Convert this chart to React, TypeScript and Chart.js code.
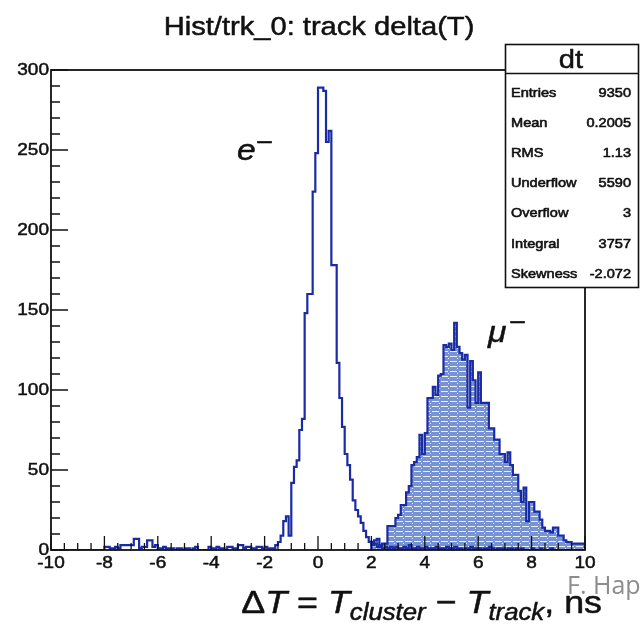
import React, { useEffect, useRef } from "react";
import { Chart, registerables } from "chart.js";

Chart.register(...registerables);

// Axis ranges and binning
const X_MIN = -10;
const X_MAX = 10;
const Y_MIN = 0;
const Y_MAX = 300;
const BIN_WIDTH = 0.1;

// Electron histogram: 200 bins of 0.1 ns covering [-10, 10)
const electronCounts = [
  0, 0, 0, 0, 0, 0, 0, 0, 0, 0,
  0, 0, 0, 0, 0, 0, 0, 0, 0, 0,
  0, 2, 2, 1, 1, 2, 1, 3, 3, 3,
  3, 3, 7, 7, 1, 2, 2, 6, 6, 2,
  3, 1, 1, 2, 1, 1, 1, 0, 1, 1,
  0, 1, 1, 0, 1, 2, 0, 0, 0, 0,
  2, 1, 1, 2, 1, 1, 0, 2, 2, 1,
  1, 3, 3, 1, 2, 2, 1, 1, 2, 2,
  1, 2, 1, 1, 1, 3, 5, 9, 18, 21,
  9, 42, 52, 56, 75, 82, 148, 160, 160, 224,
  248, 289, 289, 287, 255, 262, 178, 178, 117, 95,
  77, 60, 53, 44, 31, 25, 21, 17, 12, 8,
  5, 3, 4, 2, 3, 1, 2, 1, 2, 1,
  2, 1, 1, 2, 1, 3, 1, 1, 2, 1,
  1, 2, 1, 1, 1, 2, 1, 1, 1, 2,
  1, 1, 2, 1, 1, 0, 1, 1, 2, 1,
  1, 1, 0, 1, 1, 2, 1, 0, 1, 1,
  1, 0, 1, 1, 0, 1, 0, 1, 0, 0,
  0, 1, 0, 0, 1, 0, 0, 0, 1, 0,
  0, 0, 0, 0, 0, 0, 0, 0, 0, 0,
];

// Muon histogram: 80 bins of 0.1 ns starting at 2.0 ns
const MUON_START = 2.0;
const muonCounts = [
  6, 5, 6, 7, 2, 4, 4, 15, 15, 15,
  20, 22, 28, 28, 36, 40, 53, 55, 58, 72,
  60, 73, 95, 95, 102, 97, 109, 110, 128, 127,
  129, 125, 142, 127, 123, 119, 122, 89, 118, 106,
  92, 111, 92, 92, 92, 76, 76, 69, 69, 60,
  60, 55, 61, 53, 47, 47, 37, 30, 39, 18,
  30, 30, 24, 24, 19, 14, 12, 12, 11, 14,
  14, 9, 9, 6, 5, 5, 4, 4, 4, 4,
];

const xMajorTicks = [-10, -8, -6, -4, -2, 0, 2, 4, 6, 8, 10];
const X_MINOR_STEP = 0.5;
const yMajorTicks = [0, 50, 100, 150, 200, 250, 300];
const Y_MINOR_STEP = 10;

const TITLE = "Hist/trk_0: track delta(T)";
const STAT_TITLE = "dt";
const statLabels = ["Entries", "Mean", "RMS", "Underflow", "Overflow", "Integral", "Skewness"];
const statValues = ["9350", "0.2005", "1.13", "5590", "3", "3757", "-2.072"];
const CREDIT = "F. Hap";

const LINE_BLUE = "#1a2ca4";
const FILL_BLUE = "#7893d4";
const SANS = "'Liberation Sans', Arial, Helvetica, sans-serif";
const SX = 1.12; // horizontal text stretch

type Pt = { x: number; y: number };

function histPoints(start: number, counts: number[], closeEnds: boolean): Pt[] {
  const pts: Pt[] = [];
  if (closeEnds) pts.push({ x: start, y: 0 });
  counts.forEach((c, i) => pts.push({ x: start + i * BIN_WIDTH, y: c }));
  const end = start + counts.length * BIN_WIDTH;
  pts.push({ x: end, y: counts[counts.length - 1] });
  if (closeEnds) pts.push({ x: end, y: 0 });
  return pts;
}

function makeHatch(): CanvasPattern | string {
  const c = document.createElement("canvas");
  c.width = 9;
  c.height = 5;
  const g = c.getContext("2d");
  if (!g) return FILL_BLUE;
  g.fillStyle = FILL_BLUE;
  g.fillRect(0, 0, 9, 5);
  g.fillStyle = "rgba(255,255,255,0.85)";
  g.fillRect(0, 1, 7, 1);
  g.fillRect(7, 3, 1, 1);
  return g.createPattern(c, "repeat") || FILL_BLUE;
}

function drawText(
  ctx: CanvasRenderingContext2D,
  s: string,
  x: number,
  y: number,
  font: string,
  align: "left" | "right" | "center" = "left",
  color = "#111",
  sx = SX,
  bold = 0.5
): number {
  ctx.save();
  ctx.font = font;
  ctx.fillStyle = color;
  ctx.strokeStyle = color;
  ctx.lineWidth = bold;
  ctx.lineJoin = "round";
  ctx.textAlign = "left";
  ctx.textBaseline = "alphabetic";
  const w = ctx.measureText(s).width * sx;
  const x0 = align === "left" ? x : align === "right" ? x - w : x - w / 2;
  ctx.translate(x0, y);
  ctx.scale(sx, 1);
  ctx.fillText(s, 0, 0);
  if (bold > 0) ctx.strokeText(s, 0, 0);
  ctx.restore();
  return w;
}

type Piece = { t: string; font: string; dy?: number };

function drawRich(ctx: CanvasRenderingContext2D, pieces: Piece[], right: number, baseline: number) {
  let total = 0;
  ctx.save();
  for (const p of pieces) {
    ctx.font = p.font;
    total += ctx.measureText(p.t).width * SX;
  }
  ctx.restore();
  let x = right - total;
  for (const p of pieces) {
    x += drawText(ctx, p.t, x, baseline + (p.dy || 0), p.font, "left");
  }
}

const decorPlugin = {
  id: "rootDecor",
  beforeDraw(chart: any) {
    const ctx = chart.ctx as CanvasRenderingContext2D;
    ctx.save();
    ctx.fillStyle = "#fff";
    ctx.fillRect(0, 0, chart.width, chart.height);
    ctx.restore();
  },
  afterDraw(chart: any) {
    const ctx = chart.ctx as CanvasRenderingContext2D;
    const xs = chart.scales.x;
    const ys = chart.scales.y;
    const { left, right, top, bottom } = chart.chartArea;

    ctx.save();
    // frame
    ctx.strokeStyle = "#111";
    ctx.lineWidth = 1.8;
    ctx.strokeRect(left, top, right - left, bottom - top);

    // x ticks (inward)
    ctx.lineWidth = 1.3;
    ctx.beginPath();
    const nx = Math.round((X_MAX - X_MIN) / X_MINOR_STEP);
    for (let i = 0; i <= nx; i++) {
      const px = xs.getPixelForValue(X_MIN + i * X_MINOR_STEP);
      ctx.moveTo(px, bottom);
      ctx.lineTo(px, bottom - 7);
    }
    for (const v of xMajorTicks) {
      const px = xs.getPixelForValue(v);
      ctx.moveTo(px, bottom);
      ctx.lineTo(px, bottom - 14);
    }
    // y ticks (inward)
    const ny = Math.round((Y_MAX - Y_MIN) / Y_MINOR_STEP);
    for (let i = 0; i <= ny; i++) {
      const py = ys.getPixelForValue(Y_MIN + i * Y_MINOR_STEP);
      ctx.moveTo(left, py);
      ctx.lineTo(left + 9, py);
    }
    for (const v of yMajorTicks) {
      const py = ys.getPixelForValue(v);
      ctx.moveTo(left, py);
      ctx.lineTo(left + 17, py);
    }
    ctx.stroke();

    const tickFont = `17px ${SANS}`;
    for (const v of xMajorTicks) {
      drawText(ctx, String(v), xs.getPixelForValue(v), bottom + 18, tickFont, "center");
    }
    for (const v of yMajorTicks) {
      drawText(ctx, String(v), left - 2, ys.getPixelForValue(v) + 5, tickFont, "right");
    }

    // title
    drawText(ctx, TITLE, 319, 35, `26px ${SANS}`, "center");

    // particle labels
    const it30 = `italic 30px ${SANS}`;
    drawText(ctx, "e", 237, 160, it30, "left");
    drawText(ctx, "\u2212", 256, 151, `26px ${SANS}`, "left");
    drawText(ctx, "\u03bc", 488, 342, it30, "left");
    drawText(ctx, "\u2212", 509, 331, `26px ${SANS}`, "left");

    // axis title
    const up = `32px ${SANS}`;
    const it = `italic 32px ${SANS}`;
    const sub = `italic 23px ${SANS}`;
    drawRich(
      ctx,
      [
        { t: "\u0394", font: up },
        { t: "T", font: it },
        { t: " = ", font: up },
        { t: "T", font: it },
        { t: "cluster", font: sub, dy: 7 },
        { t: " \u2212 ", font: up },
        { t: "T", font: it },
        { t: "track", font: sub, dy: 7 },
        { t: ", ns", font: up },
      ],
      602,
      613
    );

    // credit text
    drawText(ctx, CREDIT, 567, 594, `25px 'Open Sans', sans-serif`, "left", "#8c8c8c", 1, 0);

    // statistics box
    const bx = 505.5;
    const by = 44.5;
    const bw = 133;
    const bh = 243;
    ctx.fillStyle = "#fff";
    ctx.fillRect(bx, by, bw, bh);
    ctx.strokeStyle = "#111";
    ctx.lineWidth = 1.6;
    ctx.strokeRect(bx, by, bw, bh);
    ctx.beginPath();
    ctx.moveTo(bx, 73.5);
    ctx.lineTo(bx + bw, 73.5);
    ctx.stroke();
    drawText(ctx, STAT_TITLE, 571, 68, `26px ${SANS}`, "center");
    statLabels.forEach((lab, i) => {
      const yb = 96.5 + i * 30.2;
      drawText(ctx, lab, 511, yb, `13px ${SANS}`, "left", "#111", SX, 0.6);
      drawText(ctx, statValues[i], 631, yb, `13px ${SANS}`, "right", "#111", SX, 0.6);
    });
    ctx.restore();
  },
};

export default function App() {
  const canvasRef = useRef<HTMLCanvasElement | null>(null);

  useEffect(() => {
    const canvas = canvasRef.current;
    if (!canvas) return;
    const hatch = makeHatch();
    const chart = new Chart(canvas, {
      type: "line",
      data: {
        datasets: [
          {
            label: "mu",
            data: histPoints(MUON_START, muonCounts, true),
            stepped: "after",
            borderColor: LINE_BLUE,
            borderWidth: 2.2,
            backgroundColor: hatch as any,
            fill: "origin",
            pointRadius: 0,
            order: 2,
          },
          {
            label: "e",
            data: histPoints(X_MIN, electronCounts, false),
            stepped: "after",
            borderColor: LINE_BLUE,
            borderWidth: 2.2,
            fill: false,
            pointRadius: 0,
            order: 1,
          },
        ],
      },
      options: {
        responsive: false,
        animation: false,
        events: [],
        layout: { padding: { left: 51, top: 70, right: 56, bottom: 78 } },
        scales: {
          x: { type: "linear", min: X_MIN, max: X_MAX, display: false },
          y: { type: "linear", min: Y_MIN, max: Y_MAX, display: false },
        },
        plugins: {
          legend: { display: false },
          tooltip: { enabled: false },
          title: { display: false },
        },
      },
      plugins: [decorPlugin],
    });
    return () => chart.destroy();
  }, []);

  return (
    <div style={{ position: "fixed", left: 0, top: 0, width: 641, height: 628, background: "#fff" }}>
      <canvas ref={canvasRef} width={641} height={628} style={{ display: "block" }} />
    </div>
  );
}
